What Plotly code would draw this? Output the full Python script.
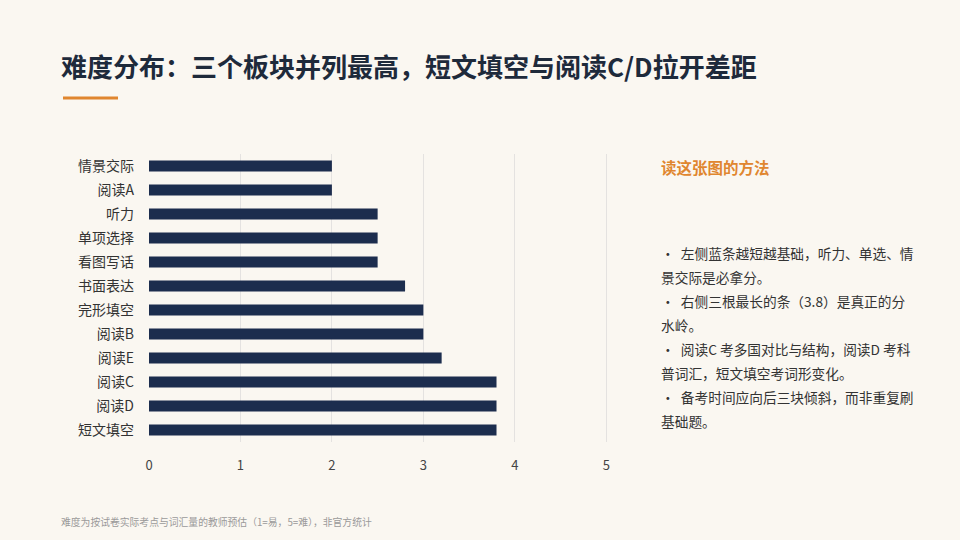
import plotly.graph_objects as go

# 题型与难度（自上而下）
categories = ["情景交际", "阅读A", "听力", "单项选择", "看图写话", "书面表达",
              "完形填空", "阅读B", "阅读E", "阅读C", "阅读D", "短文填空"]
difficulty = [2.0, 2.0, 2.5, 2.5, 2.5, 2.8, 3.0, 3.0, 3.2, 3.8, 3.8, 3.8]
x_ticks = [0, 1, 2, 3, 4, 5]

title_text = "难度分布：三个板块并列最高，短文填空与阅读C/D拉开差距"
side_heading = "读这张图的方法"
side_lines = [
    "·  左侧蓝条越短越基础，听力、单选、情",
    "景交际是必拿分。",
    "·  右侧三根最长的条（3.8）是真正的分",
    "水岭。",
    "·  阅读C 考多国对比与结构，阅读D 考科",
    "普词汇，短文填空考词形变化。",
    "·  备考时间应向后三块倾斜，而非重复刷",
    "基础题。",
]
footnote = "难度为按试卷实际考点与词汇量的教师预估（1=易，5=难），非官方统计"

FONT = "Noto Sans CJK SC"
BG = "#FAF7F1"
NAVY = "#1C2D4E"
ORANGE = "#E0862F"

fig = go.Figure()
fig.add_trace(go.Bar(
    x=difficulty, y=categories, orientation="h",
    marker=dict(color=NAVY, line=dict(width=0)),
    width=0.46, hoverinfo="x+y", showlegend=False,
))

W, H = 960, 540
ml, mr, mt, mb = 149, 351, 154, 98

fig.update_layout(
    width=W, height=H,
    paper_bgcolor=BG, plot_bgcolor=BG,
    margin=dict(l=ml, r=mr, t=mt, b=mb),
    font=dict(family=FONT, color="#333333", size=13),
    xaxis=dict(range=[0, 5.03], tickvals=x_ticks, showgrid=True,
               gridcolor="#E4E2E0", gridwidth=1, zeroline=False,
               showline=False, ticks="", ticklabelstandoff=14,
               tickfont=dict(size=13, color="#444444")),
    yaxis=dict(categoryorder="array", categoryarray=categories,
               autorange="reversed", showgrid=False, showline=False,
               ticks="", ticklabelstandoff=14,
               tickfont=dict(size=14, color="#333333")),
    bargap=0.5,
)

ann = [
    dict(text=f"<b>{title_text}</b>", x=59, y=65, font=dict(size=26, color="#1E2A3B")),
    dict(text=f"<b>{side_heading}</b>", x=659, y=167, font=dict(size=15.5, color=ORANGE)),
    dict(text=footnote, x=59, y=522, font=dict(size=9.8, color="#9A9A9A")),
]
for i, line in enumerate(side_lines):
    ann.append(dict(text=line, x=659, y=253 + 24 * i, font=dict(size=13.7, color="#333333")))

for a in ann:
    fig.add_annotation(
        text=a["text"], xref="paper", yref="paper",
        x=(a["x"] - ml) / (W - ml - mr), y=1 - (a["y"] - mt) / (H - mt - mb),
        xanchor="left", yanchor="middle", showarrow=False, align="left",
        font=dict(family=FONT, **a["font"]),
    )

# 标题下方橙色短线
fig.add_shape(type="line", xref="paper", yref="paper",
              x0=(63 - ml) / (W - ml - mr), x1=(118 - ml) / (W - ml - mr),
              y0=1 - (98 - mt) / (H - mt - mb), y1=1 - (98 - mt) / (H - mt - mb),
              line=dict(color=ORANGE, width=3))

fig.write_html("out.html", config={"displayModeBar": False},
               post_script="document.body.style.margin='0';")
